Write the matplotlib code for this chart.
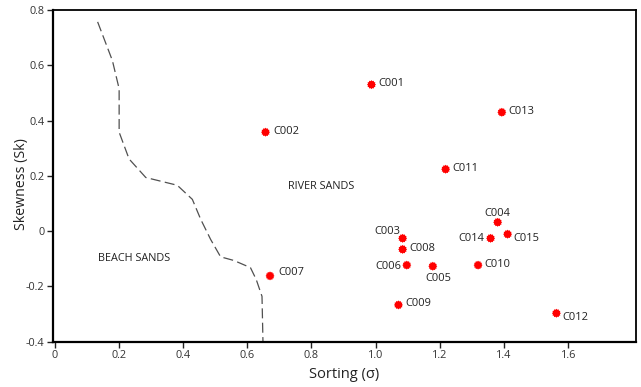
import numpy as np
import matplotlib
matplotlib.use("Agg")
import matplotlib.pyplot as plt
from matplotlib.path import Path

plt.rcParams['font.family'] = ['Open Sans', 'DejaVu Sans']
plt.rcParams['axes.unicode_minus'] = False

# ---- data ----
samples = ["C001", "C002", "C003", "C004", "C005", "C006", "C007", "C008",
           "C009", "C010", "C011", "C012", "C013", "C014", "C015"]
sorting = [0.987, 0.657, 1.084, 1.380, 1.178, 1.097, 0.671, 1.084,
           1.071, 1.319, 1.218, 1.563, 1.393, 1.358, 1.411]
skewness = [0.530, 0.358, -0.026, 0.032, -0.127, -0.123, -0.162, -0.066,
            -0.267, -0.123, 0.224, -0.297, 0.430, -0.026, -0.011]

boundary_x = [0.134, 0.180, 0.201, 0.201, 0.232, 0.284, 0.382, 0.429, 0.455,
              0.486, 0.517, 0.558, 0.610, 0.628, 0.646, 0.649]
boundary_y = [0.757, 0.617, 0.515, 0.358, 0.261, 0.194, 0.166, 0.115, 0.043,
              -0.030, -0.093, -0.106, -0.132, -0.175, -0.236, -0.400]

x_ticks = [0, 0.2, 0.4, 0.6, 0.8, 1.0, 1.2, 1.4, 1.6]
x_ticklabels = ["0", "0.2", "0.4", "0.6", "0.8", "1.0", "1.2", "1.4", "1.6"]
y_ticks = [-0.4, -0.2, 0, 0.2, 0.4, 0.6, 0.8]
y_ticklabels = ["-0.4", "-0.2", "0", "0.2", "0.4", "0.6", "0.8"]

# label placement: (dx px, dy px up, ha)
label_pos = {
    "C003": (-2, 7, "right"),
    "C004": (0, 9, "center"),
    "C014": (-6, 0, "right"),
    "C006": (-5, -1, "right"),
    "C005": (6, -12, "center"),
    "C012": (6, -4, "left"),
    "C015": (6, -4, "left"),
    "C007": (8, 3, "left"),
    "C002": (8, 1, "left"),
}

fig = plt.figure(figsize=(6.41, 3.87), dpi=100)
ax = fig.add_axes([53 / 641, 1 - 341.7 / 387, (635.7 - 53) / 641, (341.7 - 10) / 387])

# spiky marker
n = 24
ang = np.linspace(0, 2 * np.pi, n, endpoint=False) + np.pi / 2
rad = np.where(np.arange(n) % 2 == 0, 1.0, 0.8)
verts = np.column_stack([rad * np.cos(ang), rad * np.sin(ang)])
verts = np.vstack([verts, verts[:1]])
codes = [Path.MOVETO] + [Path.LINETO] * (n - 1) + [Path.CLOSEPOLY]
spiky = Path(verts, codes)

ax.plot(boundary_x, boundary_y, color="#505050", lw=0.9, dashes=(8, 3.5))
ax.scatter(sorting, skewness, marker=spiky, s=42, color="#ff0000",
           edgecolors="none", zorder=3)

px = 0.72
for name, x, y in zip(samples, sorting, skewness):
    dx, dy, ha = label_pos.get(name, (6.5, 1, "left"))
    ax.annotate(name, (x, y), xytext=(dx * px, dy * px), textcoords="offset points",
                ha=ha, va="center", fontsize=8, color="#222222")

ax.text(0.829, 0.160, "RIVER SANDS", ha="center", va="center", fontsize=7.8,
        color="#222222")
ax.text(0.248, -0.099, "BEACH SANDS", ha="center", va="center", fontsize=7.8,
        color="#222222")

ax.set_xlim(-0.005, 1.81)
ax.set_ylim(-0.4, 0.8)
ax.set_xticks(x_ticks)
ax.set_xticklabels(x_ticklabels)
ax.set_yticks(y_ticks)
ax.set_yticklabels(y_ticklabels)
ax.tick_params(axis="both", length=4, width=1, color="#222222", labelsize=7.8,
               labelcolor="#333333", pad=2)

for s in ["left", "bottom"]:
    ax.spines[s].set_linewidth(1.6)
for s in ["top", "right"]:
    ax.spines[s].set_linewidth(1.3)

ax.set_xlabel("Sorting (σ)", fontsize=10.5, color="#222222", labelpad=4)
ax.set_ylabel("Skewness (Sk)", fontsize=10.2, color="#222222")
ax.yaxis.set_label_coords(-24 / 583, (341.7 - 184) / 331.7)

fig.savefig("out.png", dpi=100)
